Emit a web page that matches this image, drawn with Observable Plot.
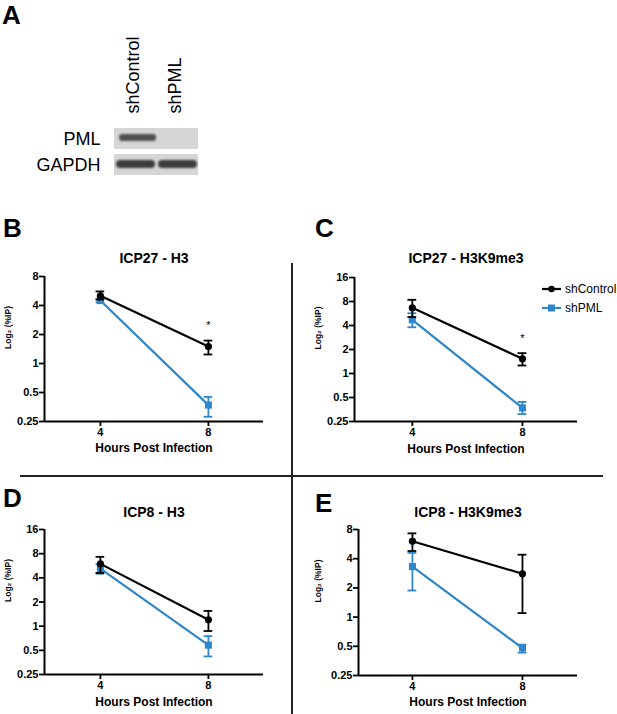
<!DOCTYPE html>
<html>
<head>
<meta charset="utf-8">
<script src="https://cdn.jsdelivr.net/npm/d3@7"></script>
<script src="https://cdn.jsdelivr.net/npm/@observablehq/plot@0.6"></script>
<style>
  body { margin: 0; background: #fff; }
  #fig { position: relative; width: 617px; height: 714px; overflow: hidden; background: #fff;
         font-family: "Liberation Sans", Arial, sans-serif; color: #000; }
  .letter { position: absolute; font-size: 26px; font-weight: bold; line-height: 1; z-index: 5; }
  .rule { position: absolute; background: #222; z-index: 5; }
  #legend { position: absolute; left: 542px; top: 279px; font-size: 12px; z-index: 6; }
  #legend .row { display: flex; align-items: center; height: 19px; }
  #legend svg { margin-right: 4px; }
</style>
</head>
<body>
<div id="fig"></div>
<script>
// ---------- Data ----------
// Panel A (western blot)
const blotLanes = ["shControl", "shPML"];
const blotProteins = ["PML", "GAPDH"];
const bandIntensity = [[0.8, 0], [0.9, 0.9]]; // protein x lane

// Panels B-E
const panelLetters = ["B", "C", "D", "E"];
const panelTitles = ["ICP27 - H3", "ICP27 - H3K9me3", "ICP8 - H3", "ICP8 - H3K9me3"];
const hours = [4, 8];
const seriesNames = ["shControl", "shPML"];

const controlMean = [[5.05, 1.5], [6.67, 1.53], [5.97, 1.2], [6.06, 2.8]];
const controlLo   = [[4.6, 1.24], [5.1, 1.26], [4.6, 0.87], [4.8, 1.1]];
const controlHi   = [[5.6, 1.73], [8.4, 1.8], [7.3, 1.55], [7.3, 4.4]];

const pmlMean = [[4.5, 0.37], [4.72, 0.37], [5.2, 0.58], [3.32, 0.48]];
const pmlLo   = [[4.3, 0.28], [3.8, 0.31], [4.5, 0.42], [1.88, 0.43]];
const pmlHi   = [[4.7, 0.45], [5.7, 0.44], [5.9, 0.75], [4.6, 0.52]];

const yTickLabels = [
  [0.25, 0.5, 1, 2, 4, 8],
  [0.25, 0.5, 1, 2, 4, 8, 16],
  [0.25, 0.5, 1, 2, 4, 8, 16],
  [0.25, 0.5, 1, 2, 4, 8]
];
// significance markers: [hour, y position]
const asterisks = [[[8, 2.48]], [[8, 2.77]], [], []];

const axisLabelX = "Hours Post Infection";
const axisLabelY = "Log\u2082 (%IP)";

const colors = { shControl: "#000000", shPML: "#2f86c9" };
const symbols = { shControl: "circle", shPML: "square" };

// ---------- Layout ----------
const fig = document.getElementById("fig");
const FONT = '"Liberation Sans", Arial, sans-serif';

function place(el, left, top) {
  el.style.position = "absolute";
  el.style.left = left + "px";
  el.style.top = top + "px";
  fig.appendChild(el);
}

// ---------- Panel A ----------
const blotCells = [];
blotProteins.forEach((p, i) => blotLanes.forEach((l, j) =>
  blotCells.push({ protein: p, lane: l, intensity: bandIntensity[i][j] })));

const blot = Plot.plot({
  width: 210, height: 180,
  marginLeft: 113, marginRight: 12, marginTop: 127, marginBottom: 4,
  style: { fontFamily: FONT, background: "transparent", overflow: "visible" },
  x: { type: "band", domain: blotLanes, padding: 0, axis: null },
  y: { type: "band", domain: blotProteins, paddingInner: 0.185, paddingOuter: 0, axis: null },
  marks: [
    Plot.axisY({ tickSize: 0, tickPadding: 13, fontSize: 18, label: null }),
    Plot.cell(blotCells, { x: "lane", y: "protein", fill: "#d6d6d6" }),
    Plot.cell(blotCells.filter(d => d.protein === "PML" && d.intensity > 0), {
      x: "lane", y: "protein", fill: "#2e2e2e", fillOpacity: "intensity",
      insetTop: 6, insetBottom: 8, insetLeft: 5, insetRight: 0, rx: 3
    }),
    Plot.cell(blotCells.filter(d => d.protein === "GAPDH" && d.intensity > 0), {
      x: "lane", y: "protein", fill: "#2e2e2e", fillOpacity: "intensity",
      insetTop: 6, insetBottom: 7, insetLeft: 2, insetRight: 1, rx: 4
    }),
    Plot.text(blotLanes, { x: d => d, frameAnchor: "top", dx: -9, dy: -14, rotate: -90,
      textAnchor: "start", fontSize: 18 })
  ]
});
{
  const svg = d3.select(blot);
  svg.append("defs").append("filter").attr("id", "bandblur")
    .attr("x", "-20%").attr("y", "-50%").attr("width", "140%").attr("height", "200%")
    .append("feGaussianBlur").attr("stdDeviation", 1.3);
  const cellGroups = svg.selectAll('g[aria-label="cell"]').nodes();
  cellGroups.slice(1).forEach(g => g.setAttribute("filter", "url(#bandblur)"));
}
place(blot, 0, 0);

// ---------- Panels B-E ----------
const geom = [
  { left: 0,   top: 240, width: 292, height: 225, mL: 44, mR: 29, mT: 36, mB: 44, xDom: [1.93, 10.04], titleDy: -23, ylDx: -36, xlDy: 30 },
  { left: 292, top: 240, width: 325, height: 225, mL: 62, mR: 40, mT: 37, mB: 44, xDom: [1.9, 10],     titleDy: -24, ylDx: -36, xlDy: 31 },
  { left: 0,   top: 490, width: 292, height: 224, mL: 44, mR: 29, mT: 39, mB: 40, xDom: [1.93, 10.04], titleDy: -22, ylDx: -36, xlDy: 31 },
  { left: 292, top: 490, width: 325, height: 224, mL: 66, mR: 40, mT: 39, mB: 39, xDom: [2.04, 10],    titleDy: -22, ylDx: -40, xlDy: 30 }
];
const letterPos = [[3, 215], [315, 215], [3, 485], [315, 490]];

function seriesRows(i, name) {
  const m = name === "shControl" ? controlMean : pmlMean;
  const lo = name === "shControl" ? controlLo : pmlLo;
  const hi = name === "shControl" ? controlHi : pmlHi;
  return hours.map((h, j) => ({ series: name, hour: h, mean: m[i][j], lo: lo[i][j], hi: hi[i][j] }));
}

function seriesMarks(rows, name) {
  const c = colors[name];
  const cap = 0.16;
  return [
    Plot.line(rows, { x: "hour", y: "mean", stroke: c, strokeWidth: 2.2 }),
    Plot.ruleX(rows, { x: "hour", y1: "lo", y2: "hi", stroke: c, strokeWidth: 1.8 }),
    Plot.ruleY(rows, { y: "lo", x1: d => d.hour - cap, x2: d => d.hour + cap, stroke: c, strokeWidth: 1.8 }),
    Plot.ruleY(rows, { y: "hi", x1: d => d.hour - cap, x2: d => d.hour + cap, stroke: c, strokeWidth: 1.8 }),
    Plot.dot(rows, { x: "hour", y: "mean", fill: c, stroke: "none", symbol: symbols[name], r: name === "shPML" ? 4 : 3.6 })
  ];
}

panelLetters.forEach((L, i) => {
  const g = geom[i];
  const yMax = yTickLabels[i][yTickLabels[i].length - 1];
  const pml = seriesRows(i, "shPML");
  const ctl = seriesRows(i, "shControl");
  const chart = Plot.plot({
    width: g.width, height: g.height,
    marginLeft: g.mL, marginRight: g.mR, marginTop: g.mT, marginBottom: g.mB,
    style: { fontFamily: FONT, background: "transparent", overflow: "visible", color: "#000" },
    x: { type: "linear", domain: g.xDom },
    y: { type: "log", base: 2, domain: [0.25, yMax] },
    marks: [
      Plot.axisY(yTickLabels[i], { tickSize: 5, tickPadding: 1, strokeWidth: 1.8, fontSize: 11,
        fontWeight: "bold", tickFormat: d => String(d), label: null }),
      Plot.axisX(hours, { tickSize: 5, tickPadding: 2, strokeWidth: 1.8, fontSize: 11,
        fontWeight: "bold", tickFormat: d => String(d), label: null }),
      Plot.ruleX([g.xDom[0]], { stroke: "#000", strokeWidth: 2 }),
      Plot.ruleY([0.25], { stroke: "#000", strokeWidth: 2 }),
      ...seriesMarks(pml, "shPML"),
      ...seriesMarks(ctl, "shControl"),
      Plot.text(asterisks[i], { x: d => d[0], y: d => d[1], text: () => "*", fontSize: 11 }),
      Plot.text([panelTitles[i]], { frameAnchor: "top", dy: g.titleDy, fontSize: 14, fontWeight: "bold" }),
      Plot.text([axisLabelX], { frameAnchor: "bottom", dy: g.xlDy, fontSize: 12, fontWeight: "bold" }),
      Plot.text([axisLabelY], { frameAnchor: "left", dx: g.ylDx, rotate: -90, fontSize: 8.5, fontWeight: "bold" })
    ]
  });
  place(chart, g.left, g.top);

  const letter = document.createElement("div");
  letter.className = "letter";
  letter.textContent = L;
  letter.style.left = letterPos[i][0] + "px";
  letter.style.top = letterPos[i][1] + "px";
  fig.appendChild(letter);
});

// Panel A letter
{
  const a = document.createElement("div");
  a.className = "letter";
  a.textContent = "A";
  a.style.left = "2px";
  a.style.top = "1.6px";
  fig.appendChild(a);
}

// Divider rules
{
  const v = document.createElement("div");
  v.className = "rule";
  Object.assign(v.style, { left: "291px", top: "263px", width: "1.6px", height: "451px" });
  fig.appendChild(v);
  const h = document.createElement("div");
  h.className = "rule";
  Object.assign(h.style, { left: "20px", top: "475px", width: "583px", height: "1.6px" });
  fig.appendChild(h);
}

// Legend (panel C)
{
  const leg = document.createElement("div");
  leg.id = "legend";
  seriesNames.forEach(name => {
    const row = document.createElement("div");
    row.className = "row";
    const c = colors[name];
    const marker = name === "shControl"
      ? `<circle cx="9.5" cy="6" r="3.3" fill="${c}"/>`
      : `<rect x="6" y="2.5" width="7" height="7" fill="${c}"/>`;
    row.innerHTML = `<svg width="19" height="12"><line x1="0" x2="19" y1="6" y2="6" stroke="${c}" stroke-width="2.2"/>${marker}</svg><span>${name}</span>`;
    leg.appendChild(row);
  });
  fig.appendChild(leg);
}
</script>
</body>
</html>
